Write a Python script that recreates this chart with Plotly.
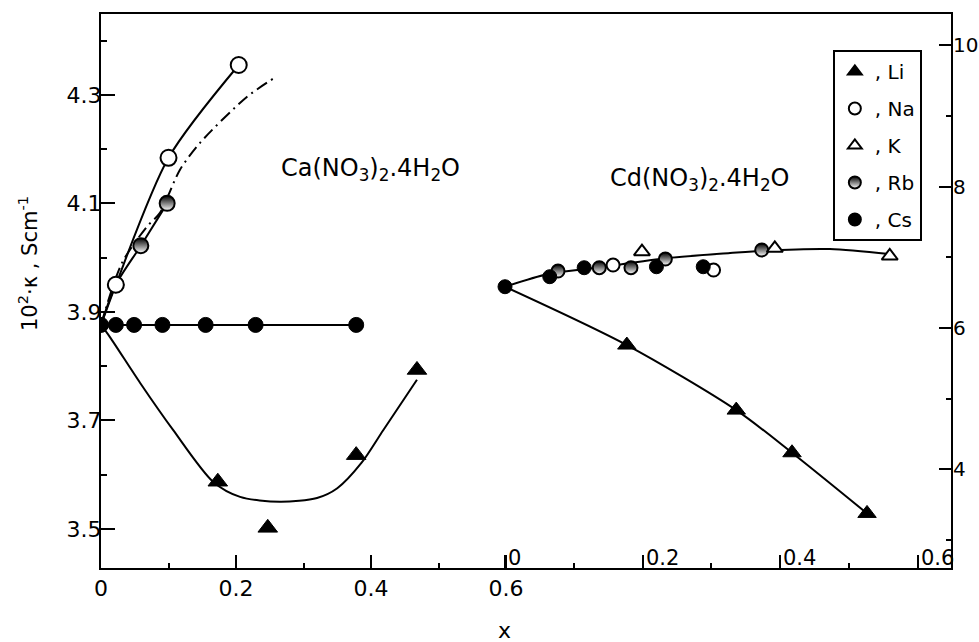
import plotly.graph_objects as go

# ---------------- data: Ca(NO3)2.4H2O panel (left axis, x from 0) ----------------
ca_na_x = [0.022, 0.100, 0.204]
ca_na_y = [3.950, 4.184, 4.355]
ca_rb_x = [0.022, 0.059, 0.098]
ca_rb_y = [3.950, 4.022, 4.100]
ca_cs_x = [0.0, 0.022, 0.049, 0.091, 0.155, 0.229, 0.378]
ca_cs_y = [3.876, 3.876, 3.876, 3.876, 3.876, 3.876, 3.876]
ca_li_x = [0.173, 0.247, 0.378, 0.468]
ca_li_y = [3.587, 3.502, 3.636, 3.793]

# fitted curves
ca_na_curve_x = [0.0, 0.022, 0.100, 0.204]
ca_na_curve_y = [3.876, 3.950, 4.184, 4.355]
ca_rb_curve_x = [0.0, 0.022, 0.059, 0.098]
ca_rb_curve_y = [3.876, 3.950, 4.022, 4.100]
ca_th_curve_x = [0.0, 0.031, 0.068, 0.087, 0.117, 0.147, 0.216, 0.259]
ca_th_curve_y = [3.876, 3.990, 4.057, 4.082, 4.162, 4.212, 4.296, 4.333]
ca_li_curve_x = [0.0, 0.013, 0.058, 0.107, 0.166, 0.206, 0.265, 0.320, 0.350, 0.386, 0.418, 0.468]
ca_li_curve_y = [3.876, 3.854, 3.769, 3.682, 3.587, 3.559, 3.550, 3.557, 3.575, 3.622, 3.682, 3.775]

# ---------------- data: Cd(NO3)2.4H2O panel (right axis, own x from 0) ----------------
cd_cs_x = [0.0, 0.065, 0.115, 0.220, 0.288]
cd_cs_y = [6.583, 6.725, 6.852, 6.866, 6.866]
cd_rb_x = [0.077, 0.137, 0.183, 0.233, 0.373]
cd_rb_y = [6.805, 6.852, 6.852, 6.975, 7.103]
cd_na_x = [0.157, 0.303]
cd_na_y = [6.890, 6.819]
cd_k_x = [0.199, 0.392, 0.559]
cd_k_y = [7.079, 7.127, 7.018]
cd_li_x = [0.177, 0.336, 0.417, 0.526]
cd_li_y = [5.757, 4.836, 4.232, 3.373]

cd_up_curve_x = [0.0, 0.063, 0.131, 0.237, 0.327, 0.375, 0.472, 0.558]
cd_up_curve_y = [6.583, 6.763, 6.848, 6.989, 7.060, 7.093, 7.117, 7.046]
cd_li_curve_x = [0.0, 0.177, 0.336, 0.417, 0.526]
cd_li_curve_y = [6.583, 5.757, 4.836, 4.232, 3.373]

# axis ticks
x_ticks = [0, 0.2, 0.4, 0.6]
x_tick_text = ["0", "0.2", "0.4", "0.6"]
x_minor = [0.1, 0.3, 0.5]
yl_ticks = [3.5, 3.7, 3.9, 4.1, 4.3]
yl_minor = [3.6, 3.8, 4.0, 4.2, 4.4]
yr_ticks = [4, 6, 8, 10]
yr_minor = [3, 5, 7, 9]

FONT = "DejaVu Sans"
BLACK = "black"

fig = go.Figure()

def curve(x, y, xa="x", ya="y", dash="solid", shape="spline"):
    fig.add_trace(go.Scatter(x=x, y=y, mode="lines", xaxis=xa, yaxis=ya,
                             line=dict(color=BLACK, width=2, dash=dash, shape=shape,
                                       smoothing=0.8),
                             showlegend=False, hoverinfo="skip"))

# left panel curves
curve(ca_na_curve_x, ca_na_curve_y)
curve(ca_rb_curve_x, ca_rb_curve_y)
curve(ca_th_curve_x, ca_th_curve_y, dash="12px,5px,2px,5px")
curve(ca_cs_x, ca_cs_y, shape="linear")
curve(ca_li_curve_x, ca_li_curve_y)
# right panel curves
curve(cd_up_curve_x, cd_up_curve_y, "x2", "y2")
curve(cd_li_curve_x, cd_li_curve_y, "x2", "y2")

STY = {
    "Li": dict(symbol="triangle-up", color=BLACK, line=dict(color=BLACK, width=1)),
    "Na": dict(symbol="circle", color="white", line=dict(color=BLACK, width=2)),
    "K": dict(symbol="triangle-up", color="white", line=dict(color=BLACK, width=2)),
    "Rb": dict(symbol="circle", color=BLACK, gradient=dict(type="vertical", color="white"),
               line=dict(color=BLACK, width=2)),
    "Cs": dict(symbol="circle", color=BLACK, line=dict(color=BLACK, width=1)),
}

def pts(x, y, key, size, xa="x", ya="y"):
    m = dict(STY[key]); m["size"] = size
    fig.add_trace(go.Scatter(x=x, y=y, mode="markers", xaxis=xa, yaxis=ya,
                             marker=m, showlegend=False, name=key))

pts(ca_cs_x, ca_cs_y, "Cs", 15)
pts(ca_rb_x, ca_rb_y, "Rb", 15)
pts(ca_na_x, ca_na_y, "Na", 16)
pts(ca_li_x, ca_li_y, "Li", 17)

pts(cd_na_x, cd_na_y, "Na", 13, "x2", "y2")
pts(cd_rb_x, cd_rb_y, "Rb", 13, "x2", "y2")
pts(cd_cs_x, cd_cs_y, "Cs", 14, "x2", "y2")
pts(cd_k_x, cd_k_y, "K", 14, "x2", "y2")
pts(cd_li_x, cd_li_y, "Li", 16, "x2", "y2")

# legend entries
for key in ["Li", "Na", "K", "Rb", "Cs"]:
    m = dict(STY[key]); m["size"] = 13
    fig.add_trace(go.Scatter(x=[None], y=[None], mode="markers", marker=m,
                             name=", " + key, legendgroup=key, showlegend=True))

axis_common = dict(showgrid=False, zeroline=False, color=BLACK, automargin=False)
tick_font = dict(family=FONT, size=22, color=BLACK)

# right-panel x tick labels sit inside the frame, right of each tick
right_x_labels = [
    dict(text=t, xref="x2", yref="paper", x=v, y=0, xanchor="left", yanchor="bottom",
         xshift=1, yshift=-4, showarrow=False,
         font=dict(family=FONT, size=21, color=BLACK))
    for v, t in zip(x_ticks, x_tick_text)
]

fig.update_layout(
    width=979, height=642,
    margin=dict(l=101, r=28, t=14, b=74),
    paper_bgcolor="white", plot_bgcolor="white",
    font=dict(family=FONT, color=BLACK),
    xaxis=dict(range=[0, 1.259], tickvals=x_ticks, ticktext=x_tick_text,
               ticks="inside", ticklen=13, tickwidth=2, showline=True, linewidth=2,
               linecolor=BLACK, mirror=True, tickfont=tick_font,
               minor=dict(tickvals=x_minor, ticks="inside", ticklen=5, tickwidth=2),
               **axis_common),
    xaxis2=dict(range=[-0.587, 0.648], overlaying="x", anchor="y", side="bottom",
                tickvals=x_ticks, ticks="inside", ticklen=13,
                tickwidth=2, showticklabels=False, showline=False,
                minor=dict(tickvals=x_minor, ticks="inside", ticklen=5, tickwidth=2),
                **axis_common),
    yaxis=dict(range=[3.428, 4.449], tickvals=yl_ticks, ticktext=[f"{v:.1f}" for v in yl_ticks],
               ticks="inside", ticklen=14, tickwidth=2, showline=True, linewidth=2,
               linecolor=BLACK, ticklabelstandoff=-7, tickfont=tick_font,
               minor=dict(tickvals=yl_minor, ticks="inside", ticklen=6, tickwidth=2),
               **axis_common),
    yaxis2=dict(range=[2.60, 10.445], overlaying="y", side="right", anchor="x",
                tickvals=yr_ticks, ticks="inside", ticklen=12, tickwidth=2,
                showline=True, linewidth=2, linecolor=BLACK, ticklabelstandoff=-4,
                tickfont=dict(family=FONT, size=20, color=BLACK),
                minor=dict(tickvals=yr_minor, ticks="inside", ticklen=5, tickwidth=2),
                **axis_common),
    legend=dict(x=0.861, y=0.935, xanchor="left", yanchor="top",
                bordercolor=BLACK, borderwidth=2, bgcolor="white",
                font=dict(family=FONT, size=20, color=BLACK),
                tracegroupgap=8, traceorder="grouped", itemsizing="constant"),
    annotations=right_x_labels + [
        dict(text="Ca(NO<sub>3</sub>)<sub>2</sub>.4H<sub>2</sub>O", xref="x", yref="y",
             x=0.263, y=4.162, xanchor="left", yanchor="middle", showarrow=False,
             font=dict(family=FONT, size=24, color=BLACK)),
        dict(text="Cd(NO<sub>3</sub>)<sub>2</sub>.4H<sub>2</sub>O", xref="x2", yref="y2",
             x=0.150, y=8.1, xanchor="left", yanchor="middle", showarrow=False,
             font=dict(family=FONT, size=24, color=BLACK)),
        dict(text="x", xref="x", yref="paper", x=0.597, y=-0.112, yanchor="middle",
             showarrow=False, font=dict(family=FONT, size=22, color=BLACK)),
        dict(text="10<sup>2</sup>·κ , Scm<sup>-1</sup>", xref="paper", yref="paper",
             x=-0.085, y=0.55, textangle=-90, xanchor="center", yanchor="middle",
             showarrow=False, font=dict(family=FONT, size=21, color=BLACK)),
    ],
)

fig.write_html("out.html")
